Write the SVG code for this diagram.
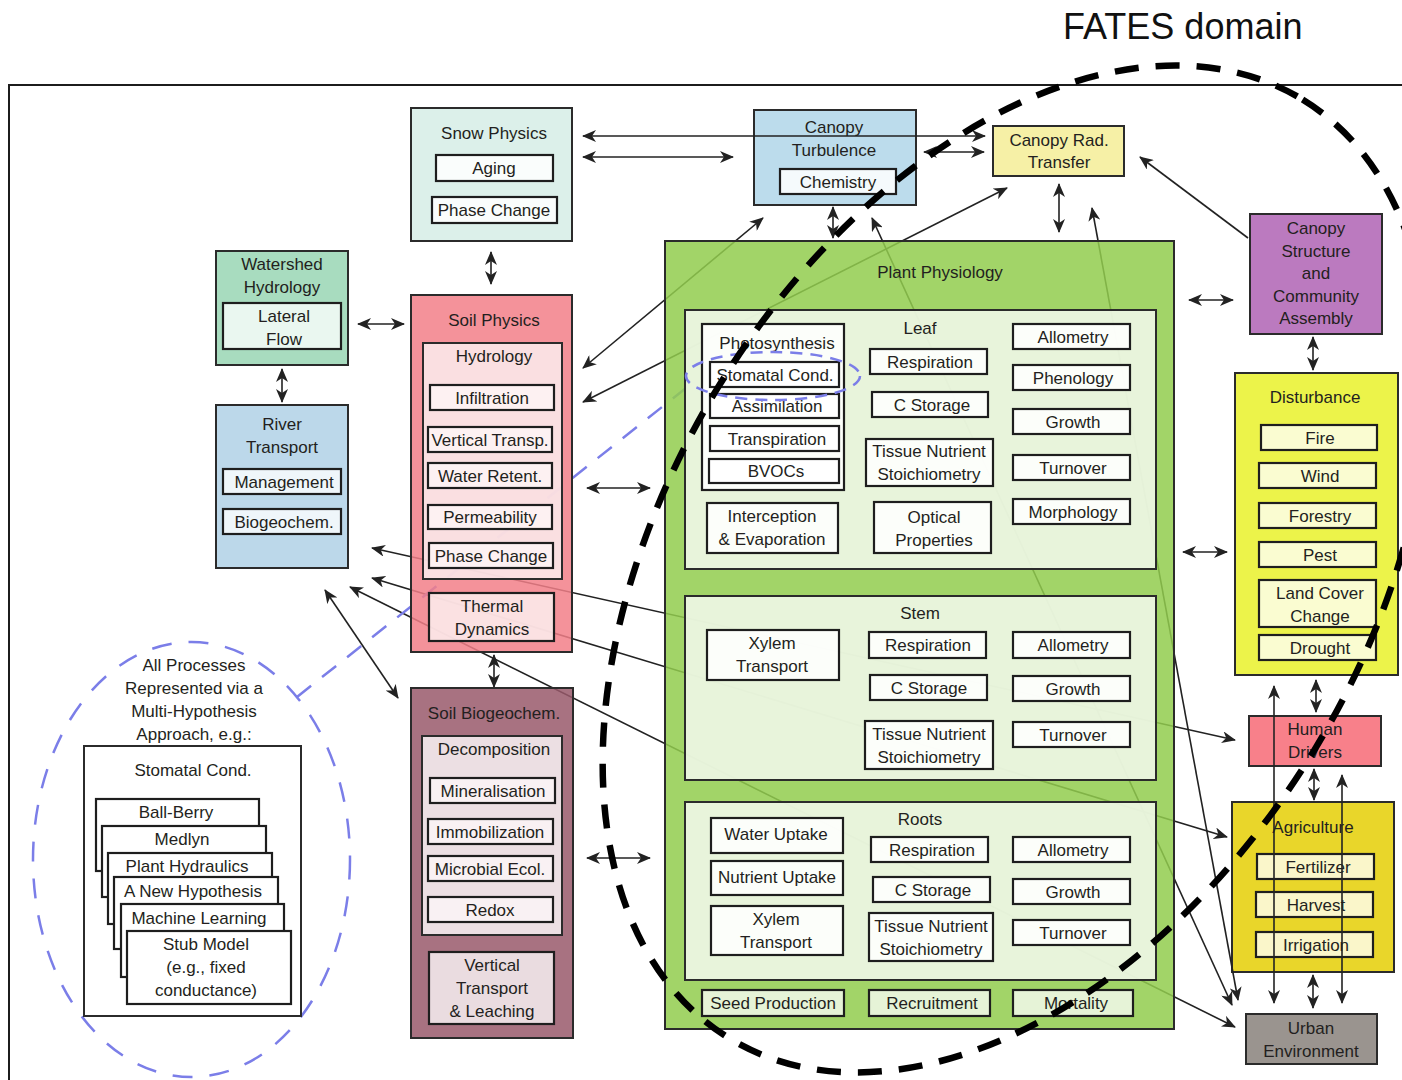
<svg xmlns="http://www.w3.org/2000/svg" width="1402" height="1080" viewBox="0 0 1402 1080">
<defs>
<style>
.t{font-family:"Liberation Sans",Arial,sans-serif;font-size:17px;fill:#231f20;text-anchor:middle}
.b{stroke:#2b2b2b;stroke-width:2}
.ib{stroke:#1e1e1e;stroke-width:2.2;fill:#fff;fill-opacity:.85}
.ln{fill:none;stroke:#222;stroke-width:1.6;marker-start:url(#ah);marker-end:url(#ah)}
.ln.one{marker-start:none}
.blue{fill:none;stroke:#7b7ee8;stroke-width:2.5}
</style>
<marker id="ah" viewBox="0 0 14 12" refX="13" refY="6" markerWidth="14" markerHeight="12" markerUnits="userSpaceOnUse" orient="auto-start-reverse"><path d="M0,0 L14,6 L0,12 L4,6 Z" fill="#222"/></marker>
</defs>
<rect width="1402" height="1080" fill="#fff"/>
<!-- outer frame, runs off the right and bottom edges -->
<rect x="9" y="85" width="1430" height="1030" fill="none" stroke="#1c1c1c" stroke-width="2"/>

<!-- boxes that sit underneath the connector lines -->
<g id="canopy-turbulence">
<rect class="b" x="754" y="110" width="162" height="95" fill="#bcdcec"/>
<text class="t" x="834" y="133">Canopy</text>
<text class="t" x="834" y="156">Turbulence</text>
<rect class="ib" x="780" y="169" width="116" height="25"/>
<text class="t" x="838" y="188">Chemistry</text>
</g>
<g id="human-drivers">
<rect class="b" x="1249" y="716" width="132" height="50" fill="#f8808a"/>
<text class="t" x="1315" y="735">Human</text>
<text class="t" x="1315" y="758">Drivers</text>
</g>
<g id="agriculture">
<rect class="b" x="1232" y="802" width="162" height="170" fill="#e9d62a"/>
<text class="t" x="1313" y="833">Agriculture</text>
<rect class="ib" x="1257" y="854" width="117" height="25" style="fill:#fdfce6"/>
<text class="t" x="1318" y="873">Fertilizer</text>
<rect class="ib" x="1256" y="892" width="117" height="25" style="fill:#fdfce6"/>
<text class="t" x="1316" y="911">Harvest</text>
<rect class="ib" x="1256" y="932" width="117" height="25" style="fill:#fdfce6"/>
<text class="t" x="1316" y="951">Irrigation</text>
</g>

<g id="connectors">
<line class="ln" x1="583" y1="136" x2="985" y2="136"/>
<line class="ln" x1="583" y1="157" x2="733" y2="157"/>
<line class="ln" x1="924" y1="152" x2="984" y2="152"/>
<line class="ln" x1="491" y1="252" x2="491" y2="284"/>
<line class="ln" x1="358" y1="324" x2="404" y2="324"/>
<line class="ln" x1="282" y1="369" x2="282" y2="402"/>
<line class="ln" x1="833" y1="207" x2="833" y2="238"/>
<line class="ln" x1="1059" y1="184" x2="1059" y2="232"/>
<line class="ln" x1="583" y1="368" x2="763" y2="218"/>
<line class="ln" x1="583" y1="402" x2="1007" y2="188"/>
<line class="ln" x1="872" y1="218" x2="1232" y2="1005"/>
<line class="ln" x1="1092" y1="208" x2="1238" y2="1000"/>
<line class="ln one" x1="1248" y1="238" x2="1140" y2="157"/>
<line class="ln" x1="587" y1="488" x2="650" y2="488"/>
<line class="ln" x1="587" y1="858" x2="650" y2="858"/>
<line class="ln" x1="494" y1="655" x2="494" y2="687"/>
<line class="ln" x1="372" y1="548" x2="1235" y2="740"/>
<line class="ln" x1="372" y1="578" x2="1227" y2="837"/>
<line class="ln" x1="350" y1="587" x2="1235" y2="1027"/>
<line class="ln" x1="325" y1="590" x2="398" y2="698"/>
<line class="ln" x1="1189" y1="300" x2="1233" y2="300"/>
<line class="ln" x1="1313" y1="337" x2="1313" y2="370"/>
<line class="ln" x1="1183" y1="552" x2="1227" y2="552"/>
<line class="ln" x1="1316" y1="680" x2="1316" y2="712"/>
<line class="ln" x1="1274" y1="686" x2="1274" y2="1003"/>
<line class="ln" x1="1314" y1="769" x2="1314" y2="800"/>
<line class="ln" x1="1342" y1="775" x2="1342" y2="1003"/>
<line class="ln" x1="1313" y1="975" x2="1313" y2="1008"/>
<!-- callout from the stomatal conductance example to the multi-hypothesis panel -->
<line class="blue" x1="297" y1="697" x2="691" y2="384" stroke-dasharray="18 14"/>
</g>

<g id="snow-physics">
<rect class="b" x="411" y="108" width="161" height="133" fill="#d6ede6" fill-opacity=".85"/>
<text class="t" x="494" y="139">Snow Physics</text>
<rect class="ib" x="436" y="155" width="117" height="26"/>
<text class="t" x="494" y="174">Aging</text>
<rect class="ib" x="432" y="197" width="125" height="26"/>
<text class="t" x="494" y="216">Phase Change</text>
</g>

<g id="canopy-rad-transfer">
<rect class="b" x="993" y="126" width="131" height="50" fill="#f6f0a6"/>
<text class="t" x="1059" y="146">Canopy Rad.</text>
<text class="t" x="1059" y="168">Transfer</text>
</g>

<g id="watershed-hydrology">
<rect class="b" x="216" y="251" width="132" height="114" fill="#a8dcbf"/>
<text class="t" x="282" y="270">Watershed</text>
<text class="t" x="282" y="293">Hydrology</text>
<rect class="ib" x="223" y="303" width="118" height="46" style="fill:#f6fbf8"/>
<text class="t" x="284" y="322">Lateral</text>
<text class="t" x="284" y="345">Flow</text>
</g>

<g id="river-transport">
<rect class="b" x="216" y="405" width="132" height="163" fill="#bcd8ea"/>
<text class="t" x="282" y="430">River</text>
<text class="t" x="282" y="453">Transport</text>
<rect class="ib" x="223" y="469" width="118" height="25" style="fill:#f8fbfd"/>
<text class="t" x="284" y="488">Management</text>
<rect class="ib" x="223" y="509" width="118" height="25" style="fill:#f8fbfd"/>
<text class="t" x="284" y="528">Biogeochem.</text>
</g>

<g id="soil-physics">
<rect class="b" x="411" y="295" width="161" height="357" fill="#f27f88" fill-opacity=".85"/>
<text class="t" x="494" y="326">Soil Physics</text>
<rect class="b" x="423" y="343" width="139" height="236" fill="#faeced" fill-opacity=".85"/>
<text class="t" x="494" y="362">Hydrology</text>
<rect class="ib" x="430" y="385" width="124" height="25" style="fill:#fdf4f4"/>
<text class="t" x="492" y="404">Infiltration</text>
<rect class="ib" x="428" y="427" width="124" height="25" style="fill:#fdf4f4"/>
<text class="t" x="490" y="446">Vertical Transp.</text>
<rect class="ib" x="428" y="463" width="124" height="25" style="fill:#fdf4f4"/>
<text class="t" x="490" y="482">Water Retent.</text>
<rect class="ib" x="428" y="505" width="124" height="24" style="fill:#fdf4f4"/>
<text class="t" x="490" y="523">Permeability</text>
<rect class="ib" x="429" y="543" width="124" height="25" style="fill:#fdf4f4"/>
<text class="t" x="491" y="562">Phase Change</text>
<rect class="ib" x="429" y="593" width="125" height="48" style="fill:#fbeeef"/>
<text class="t" x="492" y="612">Thermal</text>
<text class="t" x="492" y="635">Dynamics</text>
</g>

<g id="soil-biogeochem">
<rect class="b" x="411" y="688" width="162" height="350" fill="#99596b" fill-opacity=".85"/>
<text class="t" x="494" y="719">Soil Biogeochem.</text>
<rect class="b" x="422" y="736" width="140" height="199" fill="#f3ebed" fill-opacity=".9"/>
<text class="t" x="494" y="755">Decomposition</text>
<rect class="ib" x="430" y="778" width="125" height="25" style="fill:#fbf5f6"/>
<text class="t" x="493" y="797">Mineralisation</text>
<rect class="ib" x="428" y="819" width="125" height="25" style="fill:#fbf5f6"/>
<text class="t" x="490" y="838">Immobilization</text>
<rect class="ib" x="428" y="856" width="125" height="25" style="fill:#fbf5f6"/>
<text class="t" x="490" y="875">Microbial Ecol.</text>
<rect class="ib" x="428" y="897" width="125" height="25" style="fill:#fbf5f6"/>
<text class="t" x="490" y="916">Redox</text>
<rect class="ib" x="429" y="952" width="125" height="72" style="fill:#f6eff1"/>
<text class="t" x="492" y="971">Vertical</text>
<text class="t" x="492" y="994">Transport</text>
<text class="t" x="492" y="1017">&amp; Leaching</text>
</g>

<g id="plant-physiology">
<rect class="b" x="665" y="241" width="509" height="788" fill="#92cc4d" fill-opacity=".85"/>
<text class="t" x="940" y="278">Plant Physiology</text>
<g id="leaf">
<rect class="b" x="685" y="310" width="471" height="259" fill="#f0f7e8" fill-opacity=".9"/>
<text class="t" x="920" y="334">Leaf</text>
<rect class="ib" x="702" y="324" width="142" height="166"/>
<text class="t" x="777" y="349">Photosynthesis</text>
<rect class="ib" x="710" y="362" width="129" height="25"/>
<text class="t" x="775" y="381">Stomatal Cond.</text>
<rect class="ib" x="710" y="394" width="129" height="24"/>
<text class="t" x="777" y="412">Assimilation</text>
<rect class="ib" x="710" y="426" width="129" height="25"/>
<text class="t" x="777" y="445">Transpiration</text>
<rect class="ib" x="709" y="459" width="130" height="24"/>
<text class="t" x="776" y="477">BVOCs</text>
<rect class="ib" x="707" y="503" width="131" height="50"/>
<text class="t" x="772" y="522">Interception</text>
<text class="t" x="772" y="545">&amp; Evaporation</text>
<rect class="ib" x="870" y="349" width="117" height="25"/>
<text class="t" x="930" y="368">Respiration</text>
<rect class="ib" x="872" y="392" width="116" height="25"/>
<text class="t" x="932" y="411">C Storage</text>
<rect class="ib" x="866" y="439" width="127" height="47"/>
<text class="t" x="929" y="457">Tissue Nutrient</text>
<text class="t" x="929" y="480">Stoichiometry</text>
<rect class="ib" x="874" y="502" width="117" height="51"/>
<text class="t" x="934" y="523">Optical</text>
<text class="t" x="934" y="546">Properties</text>
<rect class="ib" x="1013" y="324" width="117" height="25"/>
<text class="t" x="1073" y="343">Allometry</text>
<rect class="ib" x="1013" y="365" width="117" height="25"/>
<text class="t" x="1073" y="384">Phenology</text>
<rect class="ib" x="1013" y="409" width="117" height="25"/>
<text class="t" x="1073" y="428">Growth</text>
<rect class="ib" x="1013" y="455" width="117" height="25"/>
<text class="t" x="1073" y="474">Turnover</text>
<rect class="ib" x="1013" y="499" width="117" height="25"/>
<text class="t" x="1073" y="518">Morphology</text>
</g>
<g id="stem">
<rect class="b" x="685" y="596" width="471" height="184" fill="#f0f7e8" fill-opacity=".9"/>
<text class="t" x="920" y="619">Stem</text>
<rect class="ib" x="707" y="630" width="132" height="50"/>
<text class="t" x="772" y="649">Xylem</text>
<text class="t" x="772" y="672">Transport</text>
<rect class="ib" x="869" y="632" width="117" height="26"/>
<text class="t" x="928" y="651">Respiration</text>
<rect class="ib" x="870" y="675" width="117" height="25"/>
<text class="t" x="929" y="694">C Storage</text>
<rect class="ib" x="865" y="721" width="128" height="48"/>
<text class="t" x="929" y="740">Tissue Nutrient</text>
<text class="t" x="929" y="763">Stoichiometry</text>
<rect class="ib" x="1013" y="632" width="117" height="26"/>
<text class="t" x="1073" y="651">Allometry</text>
<rect class="ib" x="1013" y="676" width="117" height="25"/>
<text class="t" x="1073" y="695">Growth</text>
<rect class="ib" x="1013" y="722" width="117" height="25"/>
<text class="t" x="1073" y="741">Turnover</text>
</g>
<g id="roots">
<rect class="b" x="685" y="802" width="471" height="178" fill="#f0f7e8" fill-opacity=".9"/>
<text class="t" x="920" y="825">Roots</text>
<rect class="ib" x="711" y="818" width="132" height="35"/>
<text class="t" x="776" y="840">Water Uptake</text>
<rect class="ib" x="711" y="861" width="132" height="34"/>
<text class="t" x="777" y="883">Nutrient Uptake</text>
<rect class="ib" x="711" y="906" width="132" height="49"/>
<text class="t" x="776" y="925">Xylem</text>
<text class="t" x="776" y="948">Transport</text>
<rect class="ib" x="871" y="837" width="117" height="25"/>
<text class="t" x="932" y="856">Respiration</text>
<rect class="ib" x="873" y="877" width="117" height="25"/>
<text class="t" x="933" y="896">C Storage</text>
<rect class="ib" x="869" y="913" width="124" height="48"/>
<text class="t" x="931" y="932">Tissue Nutrient</text>
<text class="t" x="931" y="955">Stoichiometry</text>
<rect class="ib" x="1013" y="837" width="117" height="25"/>
<text class="t" x="1073" y="856">Allometry</text>
<rect class="ib" x="1013" y="879" width="117" height="25"/>
<text class="t" x="1073" y="898">Growth</text>
<rect class="ib" x="1013" y="920" width="117" height="25"/>
<text class="t" x="1073" y="939">Turnover</text>
</g>
<rect class="ib" x="702" y="990" width="142" height="26" style="fill:#f2f8eb"/>
<text class="t" x="773" y="1009">Seed Production</text>
<rect class="ib" x="869" y="990" width="121" height="26" style="fill:#f2f8eb"/>
<text class="t" x="932" y="1009">Recruitment</text>
<rect class="ib" x="1013" y="990" width="120" height="26" style="fill:#f2f8eb"/>
<text class="t" x="1076" y="1009">Mortality</text>
</g>

<g id="canopy-structure">
<rect class="b" x="1250" y="214" width="132" height="120" fill="#bb7abf"/>
<text class="t" x="1316" y="234">Canopy</text>
<text class="t" x="1316" y="257">Structure</text>
<text class="t" x="1316" y="279">and</text>
<text class="t" x="1316" y="302">Community</text>
<text class="t" x="1316" y="324">Assembly</text>
</g>

<g id="disturbance">
<rect class="b" x="1235" y="373" width="163" height="302" fill="#ecf34a"/>
<text class="t" x="1315" y="403">Disturbance</text>
<rect class="ib" x="1261" y="425" width="116" height="25" style="fill:#fdfde9"/>
<text class="t" x="1320" y="444">Fire</text>
<rect class="ib" x="1259" y="463" width="117" height="25" style="fill:#fdfde9"/>
<text class="t" x="1320" y="482">Wind</text>
<rect class="ib" x="1259" y="503" width="117" height="25" style="fill:#fdfde9"/>
<text class="t" x="1320" y="522">Forestry</text>
<rect class="ib" x="1259" y="542" width="117" height="25" style="fill:#fdfde9"/>
<text class="t" x="1320" y="561">Pest</text>
<rect class="ib" x="1259" y="580" width="117" height="47" style="fill:#fdfde9"/>
<text class="t" x="1320" y="599">Land Cover</text>
<text class="t" x="1320" y="622">Change</text>
<rect class="ib" x="1259" y="635" width="117" height="25" style="fill:#fdfde9"/>
<text class="t" x="1320" y="654">Drought</text>
</g>

<g id="urban-environment">
<rect class="b" x="1246" y="1014" width="131" height="50" fill="#9a948f"/>
<text class="t" x="1311" y="1034">Urban</text>
<text class="t" x="1311" y="1057">Environment</text>
</g>

<g id="multi-hypothesis">
<ellipse class="blue" cx="191.5" cy="859.5" rx="158.5" ry="217.5" stroke-dasharray="20 17"/>
<text class="t" x="194" y="671">All Processes</text>
<text class="t" x="194" y="694">Represented via a</text>
<text class="t" x="194" y="717">Multi-Hypothesis</text>
<text class="t" x="194" y="740">Approach, e.g.:</text>
<rect x="84" y="746" width="217" height="270" fill="#fff" stroke="#2b2b2b" stroke-width="2"/>
<text class="t" x="193" y="776">Stomatal Cond.</text>
<rect x="96" y="799" width="163" height="72" fill="#fff" stroke="#1e1e1e" stroke-width="2.2"/>
<text class="t" x="176" y="818">Ball-Berry</text>
<rect x="102" y="826" width="164" height="71" fill="#fff" stroke="#1e1e1e" stroke-width="2.2"/>
<text class="t" x="182" y="845">Medlyn</text>
<rect x="108" y="853" width="164" height="71" fill="#fff" stroke="#1e1e1e" stroke-width="2.2"/>
<text class="t" x="187" y="872">Plant Hydraulics</text>
<rect x="114" y="877" width="164" height="72" fill="#fff" stroke="#1e1e1e" stroke-width="2.2"/>
<text class="t" x="193" y="897">A New Hypothesis</text>
<rect x="121" y="904" width="163" height="73" fill="#fff" stroke="#1e1e1e" stroke-width="2.2"/>
<text class="t" x="199" y="924">Machine Learning</text>
<rect x="127" y="931" width="164" height="73" fill="#fff" stroke="#1e1e1e" stroke-width="2.2"/>
<text class="t" x="206" y="950">Stub Model</text>
<text class="t" x="206" y="973">(e.g., fixed</text>
<text class="t" x="206" y="996">conductance)</text>
</g>

<!-- dashed outline round stomatal conductance in the leaf -->
<g id="stomatal-highlight">
<ellipse class="blue" cx="773" cy="376" rx="87" ry="24" stroke-width="2.2" stroke-dasharray="12 8"/>
</g>

<g id="fates-domain">
<text x="1063" y="39" font-family="Liberation Sans, Arial, sans-serif" font-size="36" fill="#111">FATES domain</text>
<ellipse cx="1016" cy="569" rx="550" ry="349" transform="rotate(-58.6 1016 569)" fill="none" stroke="#000" stroke-width="6.5" stroke-dasharray="24 17"/>
</g>
</svg>
